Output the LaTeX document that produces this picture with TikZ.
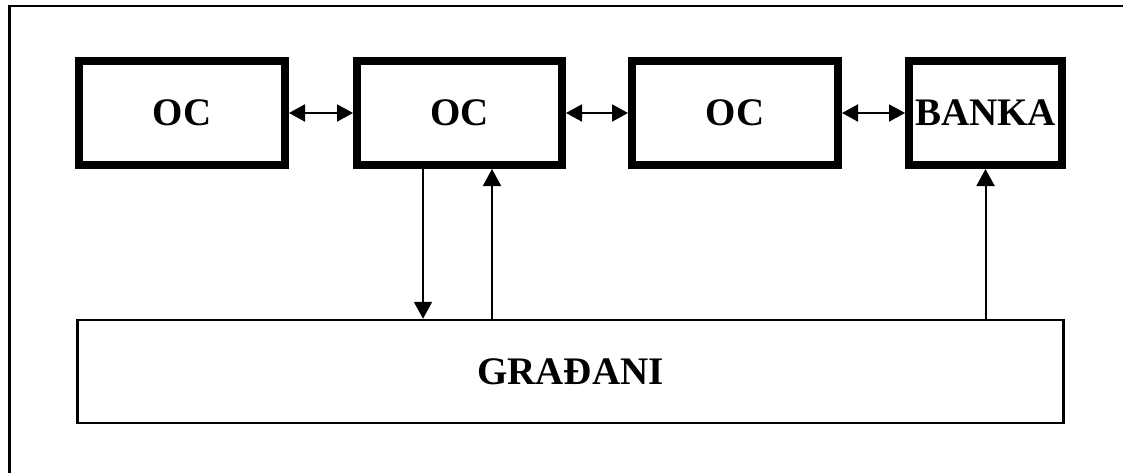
\documentclass[tikz,border=0pt]{standalone}
\usepackage{fontspec}
\setmainfont{Liberation Serif}
\usetikzlibrary{arrows.meta}
\begin{document}
\begin{tikzpicture}[x=1pt,y=-1pt,
  ocbox/.style={draw=black,line width=8pt,minimum height=104pt,inner sep=0pt,
    font=\fontsize{39}{40}\selectfont\bfseries},
  gbox/.style={draw=black,line width=2.5pt,minimum width=986pt,minimum height=103pt,inner sep=0pt,
    font=\fontsize{39}{40}\selectfont\bfseries},
  link/.style={line width=2pt,{Triangle[length=16pt,width=17pt]}-{Triangle[length=16pt,width=17pt]}},
  uparrow/.style={line width=2pt,-{Triangle[length=17pt,width=18pt]}},
  frame/.style={line width=2.5pt}]
\useasboundingbox (0,0) rectangle (1123,473);
\draw[frame] (9.5,473) -- (9.5,6) -- (1123,6);
\node[ocbox,minimum width=206pt] (b1) at (182,113) {OC};
\node[ocbox,minimum width=205pt] (b2) at (459.5,113) {OC};
\node[ocbox,minimum width=206pt] (b3) at (735,113) {OC};
\node[ocbox,minimum width=153pt] (b4) at (985.5,113) {BANKA};
\node[gbox] (g) at (570.5,371.5) {GRAĐANI};
\draw[link] (b1) -- (b2);
\draw[link] (b2) -- (b3);
\draw[link] (b3) -- (b4);
\coordinate (xd) at (423,0);
\coordinate (xu) at (492,0);
\draw[uparrow] (b2.south -| xd) -- (g.north -| xd);
\draw[uparrow] (g.north -| xu) -- (b2.south -| xu);
\draw[uparrow] (g.north -| b4) -- (b4.south);
\end{tikzpicture}
\end{document}
